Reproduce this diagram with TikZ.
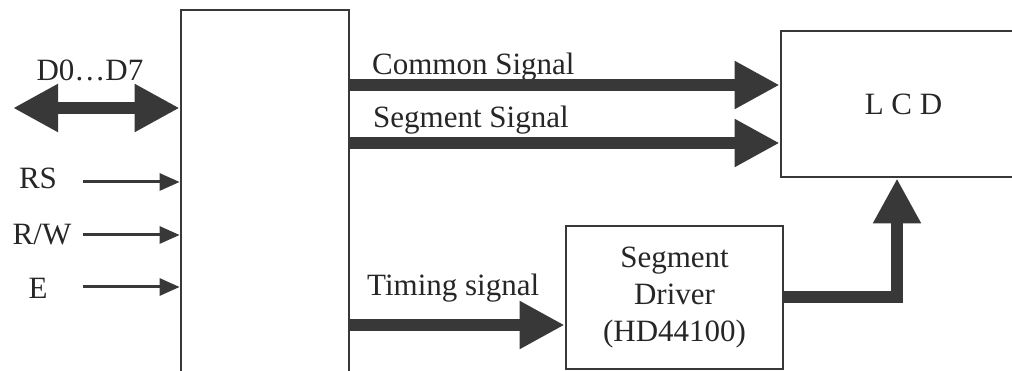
\documentclass[tikz,border=0pt]{standalone}
\usepackage{fontspec}
\setmainfont{Liberation Serif}
\usetikzlibrary{arrows.meta}
\definecolor{ink}{HTML}{383838}
\definecolor{txt}{HTML}{262626}
\begin{document}
\begin{tikzpicture}[x=1pt,y=-1pt,
  box/.style={draw=ink, line width=2.8pt, inner sep=0pt},
  lbl/.style={text=txt, font=\fontsize{31}{37}\selectfont, inner sep=0pt},
  bigarrow/.style={draw=ink, line width=12pt, -{Triangle[length=45pt,width=45pt]}},
  thinarrow/.style={draw=ink, line width=3pt, -{Triangle[length=20pt,width=17pt]}},
]
\useasboundingbox (0,0) rectangle (1012,371);
% blocks
\node[box, minimum width=168pt, minimum height=368pt] (main) at (265,194) {};
\node[box, lbl, minimum width=245pt, minimum height=146pt] (lcd) at (903.5,104) {L C D};
\node[box, lbl, align=center, minimum width=217pt, minimum height=143pt] (drv) at (674.5,297.5) {Segment\\Driver\\(HD44100)};
% helper coordinates
\coordinate (dl) at (13,108);
\coordinate (rs) at (83,182);
\coordinate (rw) at (83,235);
\coordinate (ee) at (83,287);
\coordinate (cs) at (0,85);
\coordinate (ss) at (0,143);
\coordinate (ts) at (0,325);
\coordinate (ob) at (0,297);
\coordinate (up) at (897,0);
% labels
\node[lbl] (d07) at (90,70) {D0\ldots D7};
\node[lbl] (rsl) at (38,178) {RS};
\node[lbl] (rwl) at (42,235) {R/W};
\node[lbl] (el) at (38,288) {E};
\node[lbl, anchor=base west] (csl) at (372,75) {Common Signal};
\node[lbl, anchor=base west] (ssl) at (373,128) {Segment Signal};
\node[lbl, anchor=base west] (tsl) at (367,296) {Timing signal};
% connectors
\draw[draw=ink, line width=12pt, {Triangle[length=45pt,width=45pt]}-{Triangle[length=45pt,width=45pt]}] (dl) -- (main.west |- dl);
\draw[thinarrow] (rs) -- (main.west |- rs);
\draw[thinarrow] (rw) -- (main.west |- rw);
\draw[thinarrow] (ee) -- (main.west |- ee);
\draw[bigarrow] (main.east |- cs) -- (lcd.west |- cs);
\draw[bigarrow] (main.east |- ss) -- (lcd.west |- ss);
\draw[bigarrow] (main.east |- ts) -- (drv.west |- ts);
\draw[bigarrow] (drv.east |- ob) -| (up |- lcd.south);
\end{tikzpicture}
\end{document}
